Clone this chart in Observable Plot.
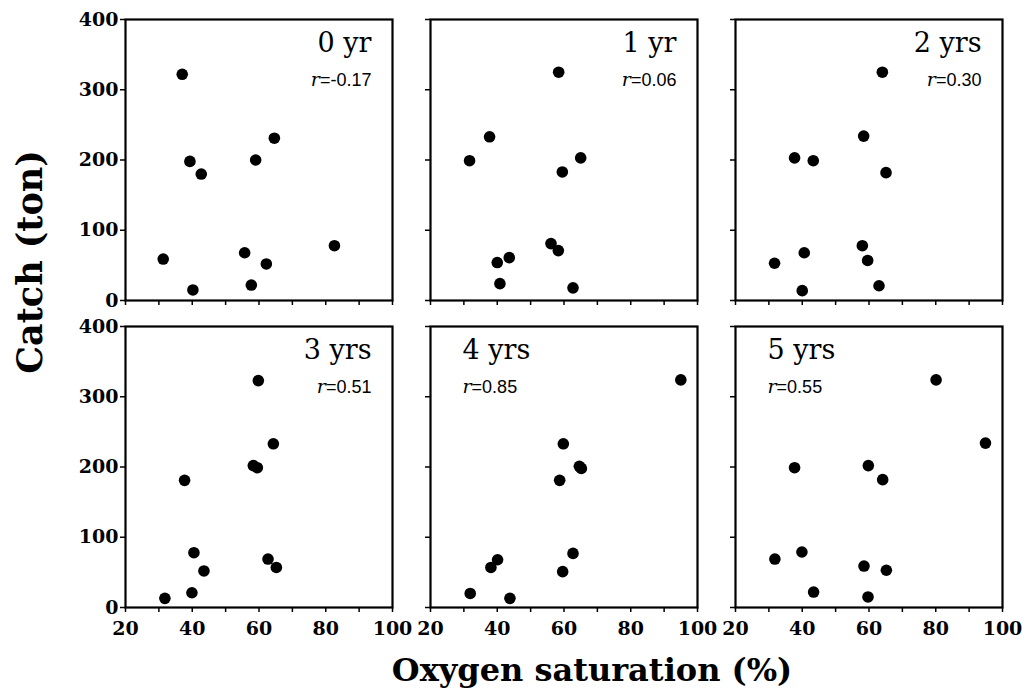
<!DOCTYPE html>
<html><head><meta charset="utf-8">
<script src="https://cdn.jsdelivr.net/npm/d3@7"></script>
<script src="https://cdn.jsdelivr.net/npm/@observablehq/plot@0.6"></script>
<style>body{margin:0;background:#fff}</style>
</head><body><div id="chart"></div>
<script>
// Panel labels and correlation coefficients
const panelLabels = ["0 yr", "1 yr", "2 yrs", "3 yrs", "4 yrs", "5 yrs"];
const rLabels = ["-0.17", "0.06", "0.30", "0.51", "0.85", "0.55"];
const panelCol = [0, 1, 2, 0, 1, 2];
const panelRow = [0, 0, 0, 1, 1, 1];
const labelSide = ["right", "right", "right", "right", "left", "left"];

// Oxygen saturation (%) per panel
const oxygen0 = [37, 39.3, 42.7, 31.3, 40.2, 55.7, 57.7, 59, 62.2, 64.6, 82.6];
const oxygen1 = [58.4, 37.7, 31.7, 65, 59.5, 56.1, 58.3, 40, 43.6, 40.8, 62.7];
const oxygen2 = [64, 58.4, 37.7, 43.3, 65.1, 58, 40.6, 31.7, 59.6, 40, 63];
const oxygen3 = [59.8, 64.3, 58.3, 59.5, 37.7, 40.5, 43.5, 39.9, 31.8, 62.7, 65.2];
const oxygen4 = [95, 59.8, 64.6, 65.2, 58.7, 62.7, 59.6, 40.1, 38.1, 31.9, 43.8];
const oxygen5 = [80.1, 94.9, 37.7, 59.8, 64.1, 39.9, 31.8, 58.5, 65.2, 43.4, 59.7];

// Catch (ton) per panel
const catch0 = [322, 198, 180, 59, 15, 68, 22, 200, 52, 231, 78];
const catch1 = [325, 233, 199, 203, 183, 81, 71, 54, 61, 24, 18];
const catch2 = [325, 234, 203, 199, 182, 78, 68, 53, 57, 14, 21];
const catch3 = [323, 233, 202, 199, 181, 78, 52, 21, 13, 69, 57];
const catch4 = [324, 233, 201, 198, 181, 77, 51, 68, 57, 20, 13];
const catch5 = [324, 234, 199, 202, 182, 79, 69, 59, 53, 22, 15];

const oxygenByPanel = [oxygen0, oxygen1, oxygen2, oxygen3, oxygen4, oxygen5];
const catchByPanel = [catch0, catch1, catch2, catch3, catch4, catch5];

// Axis ticks
const xTicks = [20, 30, 40, 50, 60, 70, 80, 90, 100];
const xTickLabels = [20, 40, 60, 80, 100];
const yTicks = [0, 100, 200, 300, 400];

const points = oxygenByPanel.flatMap((xs, p) =>
  xs.map((o, i) => ({col: panelCol[p], row: panelRow[p], oxygen: o, catchTon: catchByPanel[p][i]})));
const labels = panelLabels.map((t, p) => ({col: panelCol[p], row: panelRow[p], label: t, r: "r=" + rLabels[p], side: labelSide[p]}));
const rightLabels = labels.filter(d => d.side === "right");
const leftLabels = labels.filter(d => d.side === "left");

const labelFont = {fontFamily: "DejaVu Serif", fontWeight: "normal", fontSize: 27};
const rFont = {fontFamily: "Liberation Sans", fontWeight: "normal", fontSize: 18};

const svg = Plot.plot({
  width: 1025,
  height: 700,
  marginLeft: 125,
  marginRight: 23,
  marginTop: 18,
  marginBottom: 93,
  style: {fontFamily: "DejaVu Serif", fontWeight: "bold", fontSize: "19px", color: "black", background: "white"},
  fx: {domain: [0, 1, 2], paddingInner: 0.1246, paddingOuter: 0, axis: null},
  fy: {domain: [0, 1], paddingInner: 0.0847, paddingOuter: 0, axis: null},
  x: {domain: [20, 100]},
  y: {domain: [0, 400]},
  marks: [
    Plot.axisX({ticks: xTicks, tickSize: 5, tickFormat: () => "", facetAnchor: null, label: null, strokeWidth: 1.5}),
    Plot.axisX({ticks: xTickLabels, tickSize: 0, tickPadding: 14, facetAnchor: "bottom", label: null}),
    Plot.axisY({ticks: yTicks, tickSize: 5, tickFormat: () => "", facetAnchor: null, label: null, strokeWidth: 1.5}),
    Plot.axisY({ticks: yTicks, tickSize: 0, tickPadding: 7, facetAnchor: "left", label: null}),
    Plot.frame({stroke: "black", strokeWidth: 2.2}),
    Plot.dot(points, {x: "oxygen", y: "catchTon", fx: "col", fy: "row", r: 5.8, fill: "black", stroke: "none"}),
    Plot.text(rightLabels, {fx: "col", fy: "row", text: "label", frameAnchor: "top-right", textAnchor: "end", lineAnchor: "bottom", dx: -21, dy: 32, ...labelFont}),
    Plot.text(rightLabels, {fx: "col", fy: "row", text: "r", frameAnchor: "top-right", textAnchor: "end", lineAnchor: "bottom", dx: -21, dy: 66, ...rFont}),
    Plot.text(leftLabels, {fx: "col", fy: "row", text: "label", frameAnchor: "top-left", textAnchor: "start", lineAnchor: "bottom", dx: 32, dy: 32, ...labelFont}),
    Plot.text(leftLabels, {fx: "col", fy: "row", text: "r", frameAnchor: "top-left", textAnchor: "start", lineAnchor: "bottom", dx: 32, dy: 66, ...rFont})
  ]
});

// italic serif "r" in the correlation labels
svg.querySelectorAll('g[font-family="Liberation Sans"] text').forEach(el => {
  const t = el.textContent;
  if (!t.startsWith("r=")) return;
  el.textContent = "";
  const s = d3.select(el);
  s.append("tspan").attr("font-family", "DejaVu Serif").attr("font-style", "italic").attr("font-size", 19).text("r");
  s.append("tspan").text(t.slice(1));
});

const sel = d3.select(svg);
sel.append("text")
  .attr("transform", "translate(42,262) rotate(-90)")
  .attr("text-anchor", "middle")
  .attr("font-family", "DejaVu Serif").attr("font-weight", "bold").attr("font-size", 35)
  .attr("fill", "black")
  .text("Catch (ton)");
sel.append("text")
  .attr("x", 592).attr("y", 681)
  .attr("text-anchor", "middle")
  .attr("font-family", "DejaVu Serif").attr("font-weight", "bold").attr("font-size", 32)
  .attr("fill", "black")
  .text("Oxygen saturation (%)");

document.getElementById("chart").appendChild(svg);
</script>
</body></html>
